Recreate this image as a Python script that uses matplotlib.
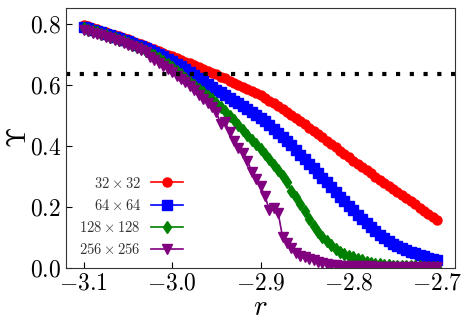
import numpy as np
import matplotlib
matplotlib.use("Agg")
import matplotlib.pyplot as plt

plt.rcParams['mathtext.fontset'] = 'cm'
plt.rcParams['font.family'] = 'serif'
plt.rcParams['font.serif'] = ['cmr10', 'DejaVu Serif']
plt.rcParams['axes.formatter.use_mathtext'] = True

# r values, step 0.005 from -3.1 to -2.7
r = np.round(np.arange(-3.1, -2.6999, 0.005), 3)

ups_32 = [0.795, 0.791, 0.786, 0.782, 0.777, 0.773, 0.768, 0.763, 0.759, 0.754,
          0.749, 0.744, 0.738, 0.733, 0.727, 0.722, 0.716, 0.710, 0.705, 0.699,
          0.693, 0.687, 0.681, 0.675, 0.670, 0.664, 0.658, 0.652, 0.646, 0.640,
          0.634, 0.627, 0.621, 0.614, 0.607, 0.600, 0.593, 0.586, 0.579, 0.573,
          0.566, 0.557, 0.548, 0.539, 0.530, 0.521, 0.511, 0.501, 0.491, 0.481,
          0.470, 0.460, 0.449, 0.438, 0.428, 0.417, 0.406, 0.395, 0.384, 0.373,
          0.362, 0.352, 0.341, 0.331, 0.320, 0.310, 0.299, 0.289, 0.279, 0.268,
          0.258, 0.248, 0.238, 0.228, 0.218, 0.208, 0.198, 0.187, 0.177, 0.167,
          0.157]

ups_64 = [0.790, 0.786, 0.781, 0.777, 0.772, 0.768, 0.763, 0.758, 0.753, 0.748,
          0.743, 0.737, 0.732, 0.726, 0.720, 0.714, 0.707, 0.700, 0.693, 0.685,
          0.677, 0.669, 0.660, 0.651, 0.642, 0.633, 0.623, 0.613, 0.604, 0.594,
          0.584, 0.575, 0.566, 0.557, 0.548, 0.539, 0.530, 0.521, 0.512, 0.502,
          0.492, 0.480, 0.467, 0.454, 0.441, 0.428, 0.415, 0.402, 0.388, 0.371,
          0.357, 0.342, 0.327, 0.311, 0.296, 0.281, 0.265, 0.250, 0.234, 0.219,
          0.204, 0.189, 0.175, 0.161, 0.147, 0.133, 0.120, 0.108, 0.097, 0.087,
          0.078, 0.071, 0.064, 0.058, 0.053, 0.048, 0.043, 0.038, 0.034, 0.030,
          0.026]

ups_128 = [0.785, 0.781, 0.776, 0.772, 0.767, 0.762, 0.757, 0.752, 0.747, 0.742,
           0.737, 0.731, 0.725, 0.719, 0.712, 0.705, 0.697, 0.688, 0.679, 0.669,
           0.658, 0.646, 0.634, 0.622, 0.610, 0.598, 0.586, 0.575, 0.563, 0.552,
           0.540, 0.527, 0.513, 0.499, 0.484, 0.468, 0.452, 0.436, 0.420, 0.405,
           0.390, 0.373, 0.356, 0.338, 0.320, 0.300, 0.280, 0.252, 0.232, 0.210,
           0.186, 0.160, 0.138, 0.118, 0.103, 0.087, 0.074, 0.062, 0.052, 0.045,
           0.040, 0.035, 0.030, 0.026, 0.021, 0.017, 0.014, 0.012, 0.010, 0.009,
           0.008, 0.007, 0.007, 0.006, 0.006, 0.005, 0.005, 0.004, 0.004, 0.004,
           0.004]

ups_256 = [0.780, 0.776, 0.771, 0.767, 0.762, 0.757, 0.752, 0.747, 0.742, 0.737,
           0.731, 0.726, 0.720, 0.713, 0.706, 0.690, 0.681, 0.672, 0.662, 0.652,
           0.641, 0.630, 0.619, 0.608, 0.597, 0.583, 0.568, 0.553, 0.540, 0.526,
           0.512, 0.470, 0.478, 0.445, 0.415, 0.394, 0.375, 0.352, 0.316, 0.290,
           0.268, 0.235, 0.190, 0.196, 0.180, 0.100, 0.082, 0.066, 0.048, 0.038,
           0.036, 0.028, 0.026, 0.020, 0.016, 0.012, 0.011, 0.009, 0.008, 0.007,
           0.006, 0.006, 0.005, 0.005, 0.005, 0.005, 0.004, 0.004, 0.004, 0.004,
           0.004, 0.004, 0.004, 0.004, 0.004, 0.004, 0.004, 0.004, 0.004, 0.004,
           0.004]

labels = [r'$32\times32$', r'$64\times64$', r'$128\times128$', r'$256\times256$']
colors = ['red', 'blue', 'green', 'purple']
markers = ['o', 's', 'd', 'v']

xticks = [-3.1, -3.0, -2.9, -2.8, -2.7]
xticklabels = [r'$-3.1$', r'$-3.0$', r'$-2.9$', r'$-2.8$', r'$-2.7$']
yticks = [0.0, 0.2, 0.4, 0.6, 0.8]
yticklabels = [r'$0.0$', r'$0.2$', r'$0.4$', r'$0.6$', r'$0.8$']

fig = plt.figure(figsize=(4.69, 3.28), dpi=100)
ax = fig.add_axes([0.141, 0.183, 0.829, 0.793])

for ys, lab, c, m in zip([ups_32, ups_64, ups_128, ups_256], labels, colors, markers):
    ax.plot(r, ys, color=c, marker=m, markersize=6.5, linewidth=1.2, label=lab)

ax.axhline(2 / np.pi, color='black', linewidth=3.0, linestyle=(0, (1, 2.3)))

ax.set_xlim(-3.12, -2.68)
ax.set_ylim(0.0, 0.852)
ax.set_xticks(xticks)
ax.set_xticklabels(xticklabels, fontsize=17)
ax.set_yticks(yticks)
ax.set_yticklabels(yticklabels, fontsize=17)
ax.tick_params(direction='in', length=4, width=0.8)
for s in ax.spines.values():
    s.set_color('#333333')

ax.set_xlabel(r'$r$', fontsize=21, labelpad=0)
ax.set_ylabel(r'$\Upsilon$', fontsize=19)
ax.yaxis.set_label_coords(-0.09, 0.5)

leg = ax.legend(loc='lower left', bbox_to_anchor=(0.0, -0.01), frameon=False,
                markerfirst=False, fontsize=10.5, handlelength=2.2,
                labelspacing=0.5, handletextpad=0.7)
for t in leg.get_texts():
    t.set_color('#333333')

fig.savefig('out.png', dpi=100)
